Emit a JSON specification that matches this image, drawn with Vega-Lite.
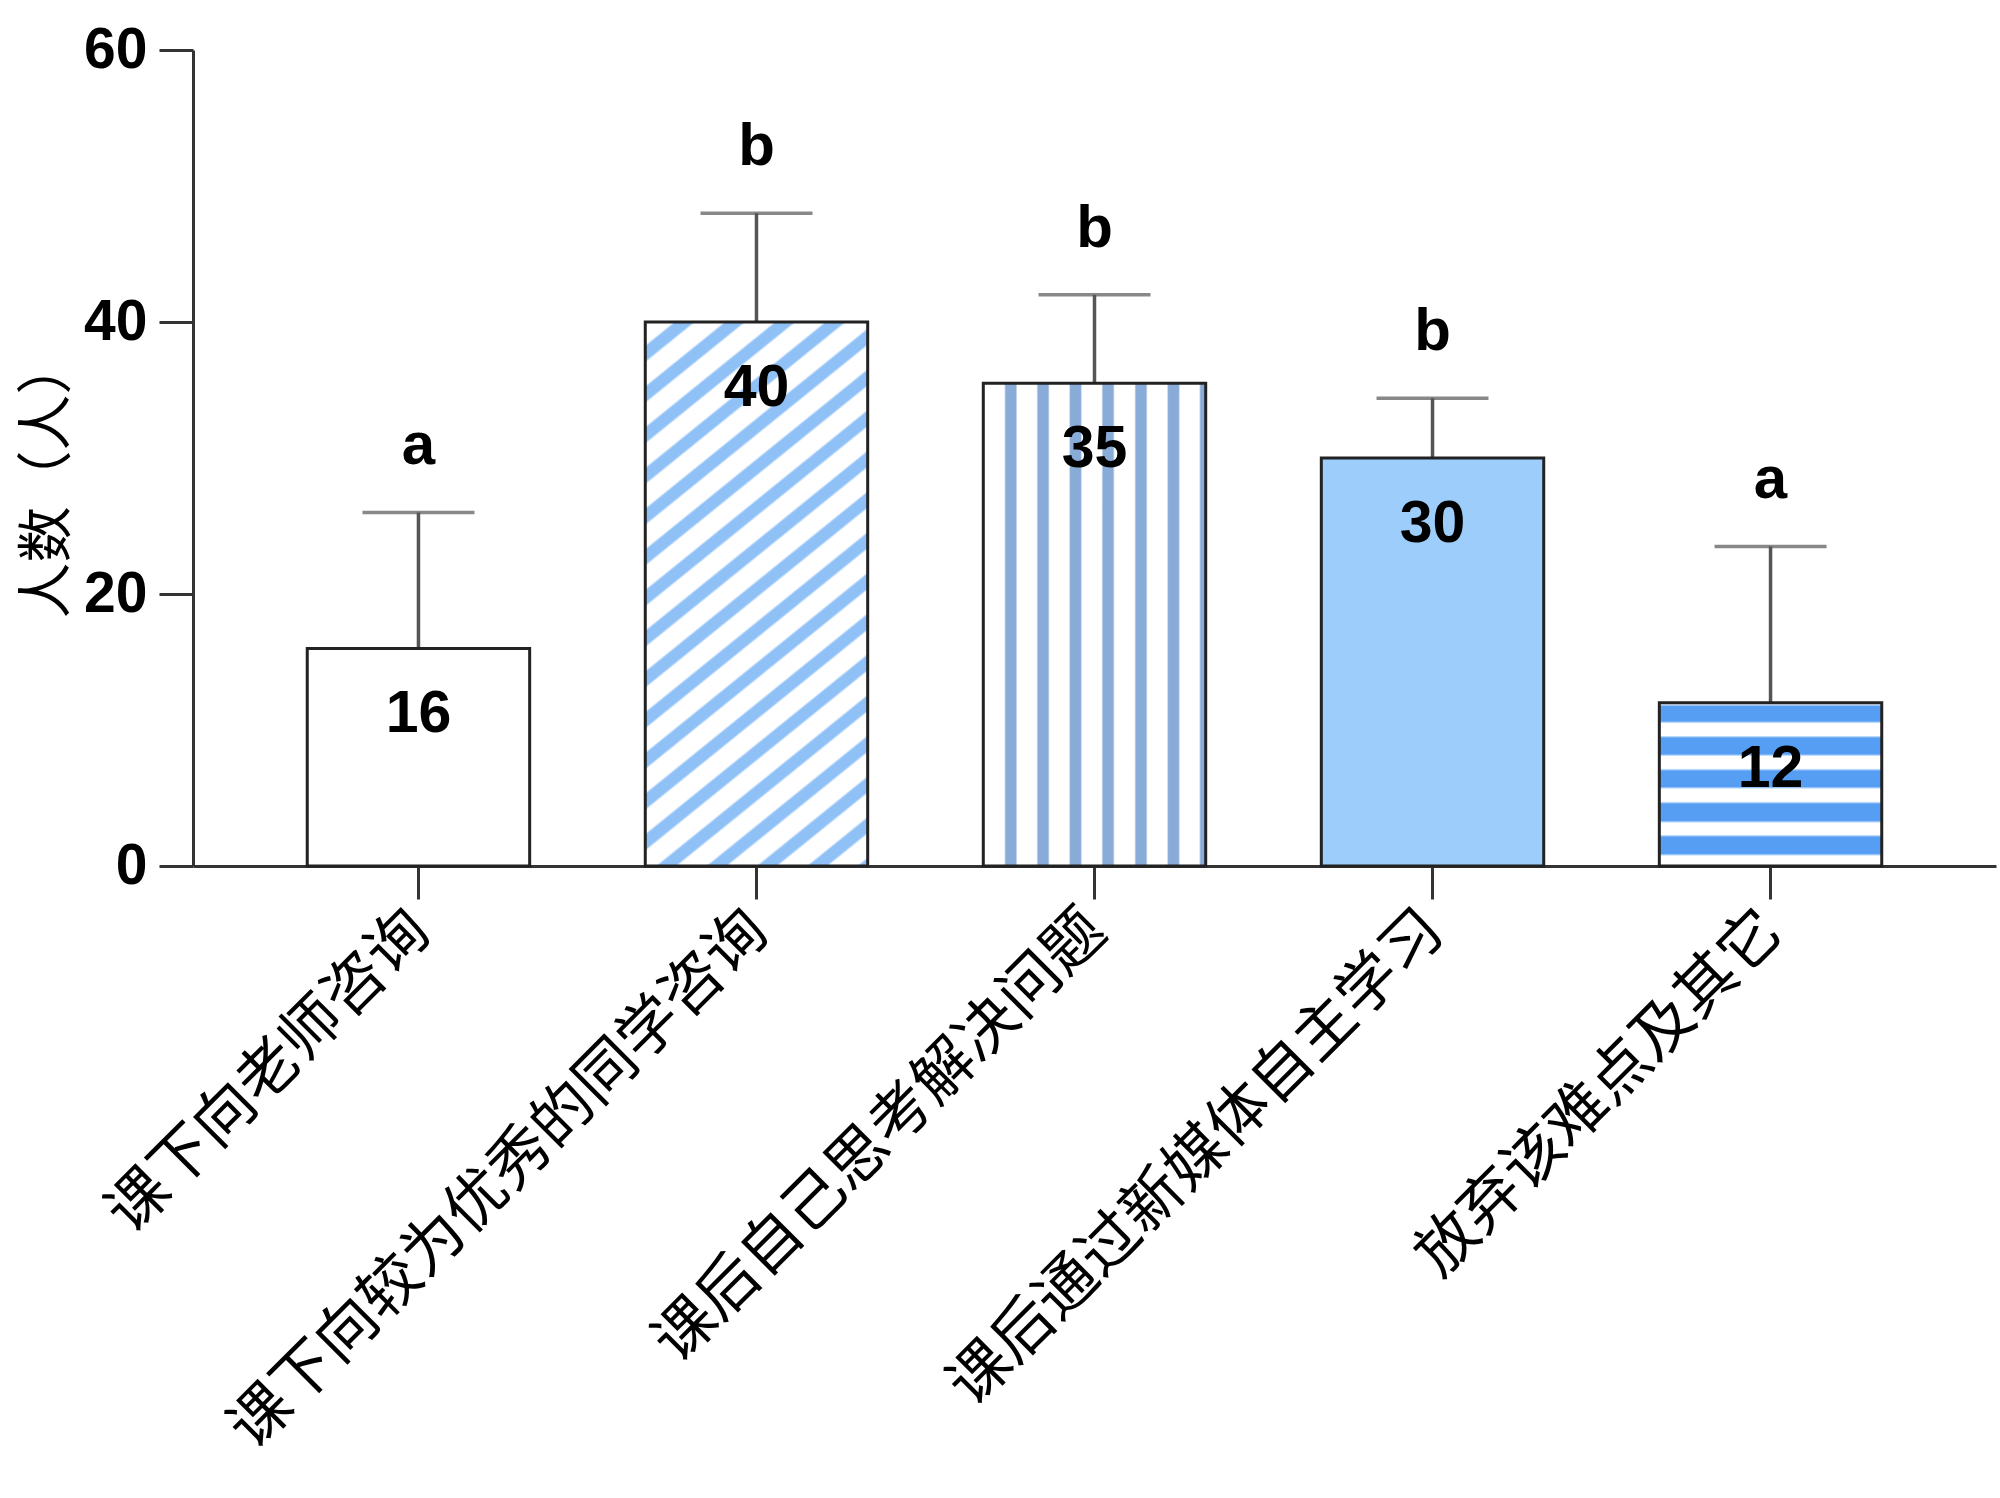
{
  "$schema": "https://vega.github.io/schema/vega-lite/v6.json",
  "width": 1803,
  "height": 816,
  "autosize": {"type": "none"},
  "padding": {"left": 193, "top": 50, "right": 4, "bottom": 632},
  "background": "white",
  "config": {"view": {"stroke": null}},
  "data": {
    "values": [
      {"cat": "课下向老师咨询", "value": 16, "upper": 26, "n": "16", "sig": "a"},
      {"cat": "课下向较为优秀的同学咨询", "value": 40, "upper": 48, "n": "40", "sig": "b"},
      {"cat": "课后自己思考解决问题", "value": 35.5, "upper": 42, "n": "35", "sig": "b"},
      {"cat": "课后通过新媒体自主学习", "value": 30, "upper": 34.4, "n": "30", "sig": "b"},
      {"cat": "放弃该难点及其它", "value": 12, "upper": 23.5, "n": "12", "sig": "a"}
    ]
  },
  "encoding": {
    "x": {
      "field": "cat",
      "type": "nominal",
      "sort": null,
      "scale": {"paddingInner": 0.342, "paddingOuter": 0.338},
      "axis": {
        "title": null,
        "labelAngle": -45,
        "labelAlign": "right",
        "labelBaseline": "middle",
        "labelFont": "Noto Sans CJK SC",
        "labelFontSize": 61,
        "labelColor": "#000000",
        "labelPadding": 22,
        "labelOffset": 2,
        "labelLimit": 3000,
        "tickSize": 33,
        "tickWidth": 3,
        "tickColor": "#333333",
        "domainColor": "#333333",
        "domainWidth": 3
      }
    }
  },
  "layer": [
    {
      "mark": {"type": "rule", "color": "#555555", "strokeWidth": 3.5},
      "encoding": {
        "y": {"field": "value", "type": "quantitative"},
        "y2": {"field": "upper"}
      }
    },
    {
      "mark": {"type": "bar", "stroke": "#222222", "strokeWidth": 3},
      "encoding": {
        "y": {
          "field": "value",
          "type": "quantitative",
          "scale": {"domain": [0, 60], "nice": false},
          "axis": {
            "title": "人数（人）",
            "values": [0, 20, 40, 60],
            "grid": false,
            "tickSize": 34,
            "tickWidth": 3,
            "tickColor": "#333333",
            "domainColor": "#333333",
            "domainWidth": 3,
            "labelFont": "Liberation Sans",
            "labelFontWeight": "bold",
            "labelFontSize": 57,
            "labelColor": "#000000",
            "labelPadding": 12,
            "titleFont": "Noto Sans CJK SC",
            "titleFontSize": 56,
            "titleFontWeight": "normal",
            "titleColor": "#000000",
            "titleAngle": -90,
            "titleX": -146,
            "titleY": 428,
            "titleAlign": "center",
            "titleBaseline": "middle"
          }
        },
        "fill": {
          "condition": [
            {
              "test": "datum.cat === '课下向较为优秀的同学咨询'",
              "value": {
                "gradient": "linear", "x1": 0, "y1": 0, "x2": 0.397, "y2": 1.2,
                "stops": [
                  {"offset": 0, "color": "#ffffff"},
                  {"offset": 0.031, "color": "#ffffff"}, {"offset": 0.035, "color": "#8fc1f7"}, {"offset": 0.053, "color": "#8fc1f7"}, {"offset": 0.057, "color": "#ffffff"},
                  {"offset": 0.0872, "color": "#ffffff"}, {"offset": 0.0912, "color": "#8fc1f7"}, {"offset": 0.1092, "color": "#8fc1f7"}, {"offset": 0.1132, "color": "#ffffff"},
                  {"offset": 0.1434, "color": "#ffffff"}, {"offset": 0.1474, "color": "#8fc1f7"}, {"offset": 0.1654, "color": "#8fc1f7"}, {"offset": 0.1694, "color": "#ffffff"},
                  {"offset": 0.1996, "color": "#ffffff"}, {"offset": 0.2036, "color": "#8fc1f7"}, {"offset": 0.2216, "color": "#8fc1f7"}, {"offset": 0.2256, "color": "#ffffff"},
                  {"offset": 0.2558, "color": "#ffffff"}, {"offset": 0.2598, "color": "#8fc1f7"}, {"offset": 0.2778, "color": "#8fc1f7"}, {"offset": 0.2818, "color": "#ffffff"},
                  {"offset": 0.312, "color": "#ffffff"}, {"offset": 0.316, "color": "#8fc1f7"}, {"offset": 0.334, "color": "#8fc1f7"}, {"offset": 0.338, "color": "#ffffff"},
                  {"offset": 0.3682, "color": "#ffffff"}, {"offset": 0.3722, "color": "#8fc1f7"}, {"offset": 0.3902, "color": "#8fc1f7"}, {"offset": 0.3942, "color": "#ffffff"},
                  {"offset": 0.4244, "color": "#ffffff"}, {"offset": 0.4284, "color": "#8fc1f7"}, {"offset": 0.4464, "color": "#8fc1f7"}, {"offset": 0.4504, "color": "#ffffff"},
                  {"offset": 0.4806, "color": "#ffffff"}, {"offset": 0.4846, "color": "#8fc1f7"}, {"offset": 0.5026, "color": "#8fc1f7"}, {"offset": 0.5066, "color": "#ffffff"},
                  {"offset": 0.5368, "color": "#ffffff"}, {"offset": 0.5408, "color": "#8fc1f7"}, {"offset": 0.5588, "color": "#8fc1f7"}, {"offset": 0.5628, "color": "#ffffff"},
                  {"offset": 0.593, "color": "#ffffff"}, {"offset": 0.597, "color": "#8fc1f7"}, {"offset": 0.615, "color": "#8fc1f7"}, {"offset": 0.619, "color": "#ffffff"},
                  {"offset": 0.6492, "color": "#ffffff"}, {"offset": 0.6532, "color": "#8fc1f7"}, {"offset": 0.6712, "color": "#8fc1f7"}, {"offset": 0.6752, "color": "#ffffff"},
                  {"offset": 0.7054, "color": "#ffffff"}, {"offset": 0.7094, "color": "#8fc1f7"}, {"offset": 0.7274, "color": "#8fc1f7"}, {"offset": 0.7314, "color": "#ffffff"},
                  {"offset": 0.7616, "color": "#ffffff"}, {"offset": 0.7656, "color": "#8fc1f7"}, {"offset": 0.7836, "color": "#8fc1f7"}, {"offset": 0.7876, "color": "#ffffff"},
                  {"offset": 0.8178, "color": "#ffffff"}, {"offset": 0.8218, "color": "#8fc1f7"}, {"offset": 0.8398, "color": "#8fc1f7"}, {"offset": 0.8438, "color": "#ffffff"},
                  {"offset": 0.874, "color": "#ffffff"}, {"offset": 0.878, "color": "#8fc1f7"}, {"offset": 0.896, "color": "#8fc1f7"}, {"offset": 0.900, "color": "#ffffff"},
                  {"offset": 0.9302, "color": "#ffffff"}, {"offset": 0.9342, "color": "#8fc1f7"}, {"offset": 0.9522, "color": "#8fc1f7"}, {"offset": 0.9562, "color": "#ffffff"},
                  {"offset": 0.9864, "color": "#ffffff"}, {"offset": 0.9904, "color": "#8fc1f7"}, {"offset": 1, "color": "#8fc1f7"}
                ]
              }
            },
            {
              "test": "datum.cat === '课后自己思考解决问题'",
              "value": {
                "gradient": "linear", "x1": 0, "y1": 0, "x2": 1, "y2": 0,
                "stops": [
                  {"offset": 0, "color": "#ffffff"},
                  {"offset": 0.0936, "color": "#ffffff"}, {"offset": 0.1016, "color": "#88abd8"}, {"offset": 0.1456, "color": "#88abd8"}, {"offset": 0.1536, "color": "#ffffff"},
                  {"offset": 0.2387, "color": "#ffffff"}, {"offset": 0.2467, "color": "#88abd8"}, {"offset": 0.2907, "color": "#88abd8"}, {"offset": 0.2987, "color": "#ffffff"},
                  {"offset": 0.3846, "color": "#ffffff"}, {"offset": 0.3926, "color": "#88abd8"}, {"offset": 0.4366, "color": "#88abd8"}, {"offset": 0.4446, "color": "#ffffff"},
                  {"offset": 0.531, "color": "#ffffff"}, {"offset": 0.539, "color": "#88abd8"}, {"offset": 0.583, "color": "#88abd8"}, {"offset": 0.591, "color": "#ffffff"},
                  {"offset": 0.679, "color": "#ffffff"}, {"offset": 0.687, "color": "#88abd8"}, {"offset": 0.731, "color": "#88abd8"}, {"offset": 0.739, "color": "#ffffff"},
                  {"offset": 0.825, "color": "#ffffff"}, {"offset": 0.833, "color": "#88abd8"}, {"offset": 0.877, "color": "#88abd8"}, {"offset": 0.885, "color": "#ffffff"},
                  {"offset": 0.970, "color": "#ffffff"}, {"offset": 0.978, "color": "#88abd8"}, {"offset": 1, "color": "#88abd8"}
                ]
              }
            },
            {
              "test": "datum.cat === '课后通过新媒体自主学习'",
              "value": "#9dcdfb"
            },
            {
              "test": "datum.cat === '放弃该难点及其它'",
              "value": {
                "gradient": "linear", "x1": 0, "y1": 0, "x2": 0, "y2": 1,
                "stops": [
                  {"offset": 0, "color": "#ffffff"},
                  {"offset": 0.007, "color": "#ffffff"}, {"offset": 0.023, "color": "#559ef3"}, {"offset": 0.111, "color": "#559ef3"}, {"offset": 0.127, "color": "#ffffff"},
                  {"offset": 0.200, "color": "#ffffff"}, {"offset": 0.216, "color": "#559ef3"}, {"offset": 0.313, "color": "#559ef3"}, {"offset": 0.329, "color": "#ffffff"},
                  {"offset": 0.402, "color": "#ffffff"}, {"offset": 0.418, "color": "#559ef3"}, {"offset": 0.513, "color": "#559ef3"}, {"offset": 0.529, "color": "#ffffff"},
                  {"offset": 0.604, "color": "#ffffff"}, {"offset": 0.620, "color": "#559ef3"}, {"offset": 0.721, "color": "#559ef3"}, {"offset": 0.737, "color": "#ffffff"},
                  {"offset": 0.807, "color": "#ffffff"}, {"offset": 0.823, "color": "#559ef3"}, {"offset": 0.923, "color": "#559ef3"}, {"offset": 0.939, "color": "#ffffff"},
                  {"offset": 1, "color": "#ffffff"}
                ]
              }
            }
          ],
          "value": "#ffffff"
        }
      }
    },
    {
      "mark": {"type": "tick", "orient": "horizontal", "size": 112, "thickness": 3.5, "color": "#555555"},
      "encoding": {"y": {"field": "upper", "type": "quantitative"}}
    },
    {
      "mark": {"type": "text", "font": "Liberation Sans", "fontWeight": "bold", "fontSize": 59, "baseline": "middle", "dy": 66, "color": "#000000"},
      "encoding": {
        "y": {"field": "value", "type": "quantitative"},
        "text": {"field": "n"}
      }
    },
    {
      "mark": {"type": "text", "font": "Liberation Sans", "fontWeight": "bold", "fontSize": 60, "baseline": "alphabetic", "dy": -48, "color": "#000000"},
      "encoding": {
        "y": {"field": "upper", "type": "quantitative"},
        "text": {"field": "sig"}
      }
    }
  ]
}
